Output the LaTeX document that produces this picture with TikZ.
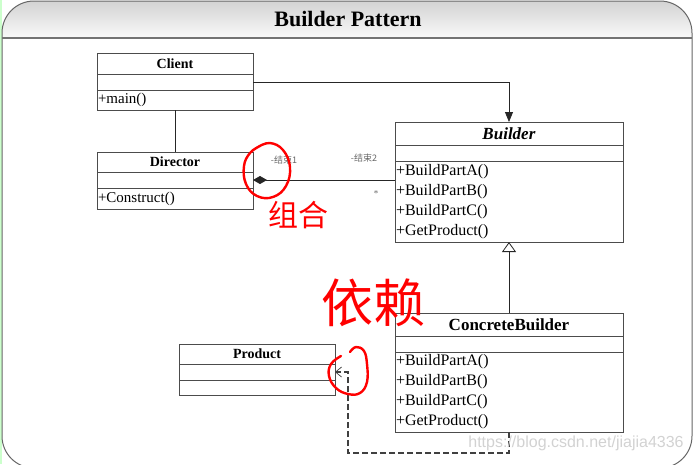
\documentclass[tikz,border=0pt]{standalone}
\usepackage{fontspec}
\setmainfont{Liberation Serif}
\newfontfamily\cjk{Noto Sans CJK SC}
\newfontfamily\wmfont{Liberation Sans}
\usetikzlibrary{positioning,arrows.meta}

\tikzset{
  part/.style={draw=black!70, line width=0.8pt, inner xsep=1pt, inner ysep=0pt, outer sep=0pt},
  narrow/.style={part, text width=154pt},
  wide/.style={part, text width=226pt},
  headsmall/.style={font=\fontsize{14}{16}\selectfont\bfseries, align=center},
  headbig/.style={font=\fontsize{17}{19}\selectfont\bfseries, align=center},
  opsmall/.style={font=\fontsize{15}{18}\selectfont, align=left},
  opbig/.style={font=\fontsize{16}{20}\selectfont, align=left},
  link/.style={draw=black!85, line width=0.8pt},
  endlabel/.style={font=\cjk\fontsize{9}{10}\selectfont, text=black!60, inner sep=0pt},
  redmark/.style={draw=red, line width=2.4pt, line cap=round, line join=round},
  redtext/.style={font=\cjk, text=red, inner sep=0pt}
}

\begin{document}
\begin{tikzpicture}[x=1pt, y=-1pt]

            \def \frameradius {32pt}
            \useasboundingbox (0,0) rectangle (694,464);

            % frame and title band
            \fill[green!20] (0,0) rectangle (1.5,464);
            \begin{scope}
              \clip[rounded corners=\frameradius] (2,1) rectangle (692,468);
              \shade[top color=gray!35, bottom color=gray!5] (0,0) rectangle (694,38);
            \end{scope}
            \draw[black!60, line width=1pt, rounded corners=\frameradius] (2,1) rectangle (692,468);
            \draw[black!55, line width=1.5pt] (2,38) -- (692,38);
            \node[font=\fontsize{22}{24}\selectfont\bfseries] (title) at (348,19) {Builder Pattern};

            % Client
            \node[narrow, headsmall, anchor=north west, minimum height=21.5pt] (clname) at (97,53) {Client};
            \node[narrow, below=0pt of clname, minimum height=15.5pt] (clattr) {};
            \node[narrow, opsmall, below=0pt of clattr, minimum height=20pt] (clops) {+main()};

            % Director
            \node[narrow, headsmall, anchor=north west, minimum height=20pt] (dirname) at (97,152) {Director};
            \node[narrow, below=0pt of dirname, minimum height=16pt] (dirattr) {};
            \node[narrow, opsmall, below=0pt of dirattr, minimum height=21pt] (dirops) {+Construct()};

            % Builder
            \node[wide, headbig, anchor=north west, minimum height=23pt] (bldname) at (395,122) {\textit{Builder}};
            \node[wide, below=0pt of bldname, minimum height=16pt] (bldattr) {};
            \node[wide, opbig, below=0pt of bldattr, minimum height=81pt] (bldops)
              {+BuildPartA()\\+BuildPartB()\\+BuildPartC()\\+GetProduct()};

            % ConcreteBuilder
            \node[wide, headbig, anchor=north west, minimum height=23pt] (cbname) at (395,313) {ConcreteBuilder};
            \node[wide, below=0pt of cbname, minimum height=16pt] (cbattr) {};
            \node[wide, opbig, below=0pt of cbattr, minimum height=80pt] (cbops)
              {+BuildPartA()\\+BuildPartB()\\+BuildPartC()\\+GetProduct()};

            % Product
            \node[narrow, headsmall, anchor=north west, minimum height=20pt] (prodname) at (179,344) {Product};
            \node[narrow, below=0pt of prodname, minimum height=16pt] (prodattr) {};
            \node[narrow, below=0pt of prodattr, minimum height=15pt] (prodops) {};

            % connectors
            \draw[link] (clops.south) -- (dirname.north);
            \draw[link, -{Triangle[length=10pt, width=8pt]}] (clattr.east) -| (bldname.north);
            \draw[link, {Diamond[length=14pt, width=8pt]}-] (dirattr.east) -- (dirattr.east -| bldops.west);
            \draw[link, -{Triangle[open, length=10pt, width=14pt, fill=white]}] (cbname.north) -- (bldops.south);
            \coordinate (depbend) at (348,453);
            \draw[link, draw=black!75, line width=1.1pt, dash pattern=on 6pt off 3pt,
                  -{Straight Barb[length=6pt, width=10pt, line width=0.7pt]}]
              (cbops.south) |- (depbend) |- (prodattr.east);

            % association ends
            \node[endlabel] (end1) at (284,160) {-结束1};
            \node[endlabel] (end2) at (364,158) {-结束2};
            \node[endlabel, font=\fontsize{9}{10}\selectfont] (many) at (376,194) {*};

            % handwritten notes
            \draw[redmark] plot[smooth, tension=0.7] coordinates
              {(258,147) (270,143) (283,150) (290,167) (286,186) (273,197) (257,196) (246,184) (244,166) (250,153) (260,146)};
            \node[redtext, font=\cjk\fontsize{30}{32}\selectfont] (zuhe) at (298,215) {组合};
            \draw[redmark] plot[smooth, tension=0.7] coordinates
              {(341,356) (331,364) (329,376) (336,388) (348,394) (360,393) (367,382) (367,364) (364,351) (356,347) (350,352)};
            \node[redtext, font=\cjk\fontsize{52}{54}\selectfont] (yilai) at (373,303) {依赖};

            % watermark
            \node[font=\wmfont\fontsize{16}{18}\selectfont, text=gray!35] (wm) at (576,443) {https://blog.csdn.net/jiajia4336};
\end{tikzpicture}
\end{document}
